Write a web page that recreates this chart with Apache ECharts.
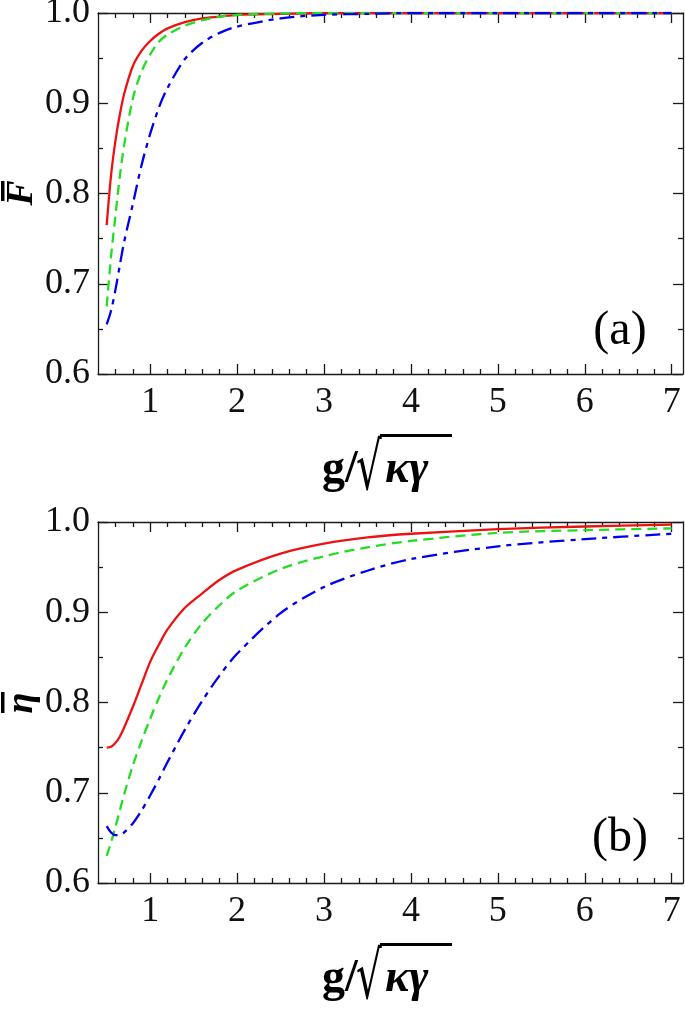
<!DOCTYPE html>
<html>
<head>
<meta charset="utf-8">
<script src="https://cdn.jsdelivr.net/npm/echarts@6/dist/echarts.min.js"></script>
<style>
html,body{margin:0;padding:0;background:#fff;}
#chart{width:685px;height:1009px;}
</style>
</head>
<body>
<div id="chart"></div>
<script>
// ---- data ----
const xVals = [0.5, 0.55, 0.6, 0.65, 0.7, 0.8, 0.9, 1.0, 1.1, 1.2, 1.4, 1.6, 1.8, 2.0, 2.5, 3, 3.5, 4, 5, 6, 7];

// panel (a): F-bar
const fRed   = [0.765, 0.820, 0.858, 0.887, 0.910, 0.941, 0.958, 0.969, 0.977, 0.983, 0.990, 0.994, 0.996, 0.998, 0.999, 1.0, 1.0, 1.0, 1.0, 1.0, 1.0];
const fGreen = [0.675, 0.730, 0.775, 0.818, 0.853, 0.905, 0.935, 0.954, 0.968, 0.976, 0.986, 0.992, 0.996, 0.998, 0.9995, 1.0, 1.0, 1.0, 1.0, 1.0, 1.0];
const fBlue  = [0.655, 0.670, 0.693, 0.720, 0.746, 0.788, 0.831, 0.866, 0.895, 0.917, 0.949, 0.967, 0.978, 0.985, 0.994, 0.998, 0.999, 1.0, 1.0, 1.0, 1.0];

// panel (b): eta-bar
const eRed   = [0.750, 0.751, 0.755, 0.762, 0.772, 0.795, 0.820, 0.845, 0.864, 0.881, 0.905, 0.921, 0.936, 0.947, 0.965, 0.976, 0.983, 0.987, 0.992, 0.995, 0.997];
const eGreen = [0.630, 0.645, 0.662, 0.680, 0.698, 0.730, 0.757, 0.782, 0.805, 0.826, 0.861, 0.888, 0.908, 0.924, 0.948, 0.962, 0.972, 0.979, 0.988, 0.991, 0.993];
const eBlue  = [0.663, 0.656, 0.653, 0.653, 0.656, 0.666, 0.680, 0.697, 0.715, 0.734, 0.770, 0.802, 0.830, 0.854, 0.899, 0.928, 0.946, 0.959, 0.973, 0.981, 0.987];

// ticks
const xMajor = [1, 2, 3, 4, 5, 6, 7];
const xMinor = [0.6, 0.8, 1.2, 1.4, 1.6, 1.8, 2.2, 2.4, 2.6, 2.8, 3.2, 3.4, 3.6, 3.8, 4.2, 4.4, 4.6, 4.8, 5.2, 5.4, 5.6, 5.8, 6.2, 6.4, 6.6, 6.8];
const yMajor = [0.6, 0.7, 0.8, 0.9, 1.0];
const yMinor = [0.65, 0.75, 0.85, 0.95];

const X_MIN = 0.4, X_MAX = 7.13, Y_MIN = 0.6, Y_MAX = 1.0;
const SERIF = "'Liberation Serif', 'Times New Roman', serif";
const lineStyle = {color: '#1a1a1a', width: 1.3};

function zip(xs, ys) { return xs.map((x, i) => [x, ys[i]]); }

function xAxesFor(g) {
  const base = {type: 'value', gridIndex: g, min: X_MIN, max: X_MAX, splitLine: {show: false}, silent: true};
  return [
    Object.assign({}, base, {position: 'bottom',
      axisLine: {show: true, lineStyle},
      axisTick: {show: true, inside: true, length: 10, customValues: xMajor, lineStyle},
      axisLabel: {show: true, customValues: xMajor, formatter: v => String(v), fontSize: 36, fontFamily: SERIF, color: '#111', margin: 11}}),
    Object.assign({}, base, {position: 'bottom',
      axisLine: {show: false},
      axisTick: {show: true, inside: true, length: 5, customValues: xMinor, lineStyle},
      axisLabel: {show: false}}),
    Object.assign({}, base, {position: 'top',
      axisLine: {show: true, lineStyle},
      axisTick: {show: true, inside: true, length: 10, customValues: xMajor, lineStyle},
      axisLabel: {show: false}}),
    Object.assign({}, base, {position: 'top',
      axisLine: {show: false},
      axisTick: {show: true, inside: true, length: 5, customValues: xMinor, lineStyle},
      axisLabel: {show: false}})
  ];
}
function yAxesFor(g) {
  const base = {type: 'value', gridIndex: g, min: Y_MIN, max: Y_MAX, splitLine: {show: false}, silent: true};
  const ax = [];
  ['left', 'right'].forEach(pos => {
    ax.push(Object.assign({}, base, {position: pos,
      axisLine: {show: true, lineStyle},
      axisTick: {show: true, inside: true, length: 10, customValues: yMajor, lineStyle},
      axisLabel: {show: pos === 'left', customValues: yMajor, formatter: v => v.toFixed(1), fontSize: 36, fontFamily: SERIF, color: '#111', margin: 8}}));
    ax.push(Object.assign({}, base, {position: pos,
      axisLine: {show: false},
      axisTick: {show: true, inside: true, length: 5, customValues: yMinor, lineStyle},
      axisLabel: {show: false}}));
  });
  return ax;
}

function seriesFor(g, red, green, blue) {
  const common = {type: 'line', xAxisIndex: g * 4, yAxisIndex: g * 4, showSymbol: false, smooth: 0.3, silent: true, animation: false};
  return [
    Object.assign({}, common, {data: zip(xVals, red), lineStyle: {color: '#ee1111', width: 2.3, type: 'solid'}}),
    Object.assign({}, common, {data: zip(xVals, green), lineStyle: {color: '#22dd22', width: 2.3, type: [10, 6]}}),
    Object.assign({}, common, {data: zip(xVals, blue), lineStyle: {color: '#0000ee', width: 2.3, type: [15, 6, 5, 6]}})
  ];
}

function xTitle(dy) {
  return [
    {type: 'text', x: 322, y: 470 + dy, style: {text: 'g/', font: "bold 46px " + SERIF, fill: '#000', verticalAlign: 'middle'}},
    {type: 'text', x: 356, y: 438.5 + dy, scaleX: 0.75, scaleY: 1.22, style: {text: '\u221A', font: "54px 'DejaVu Serif', serif", fill: '#000', verticalAlign: 'top'}},
    {type: 'line', shape: {x1: 380, y1: 435.5 + dy, x2: 452, y2: 435.5 + dy}, style: {stroke: '#000', lineWidth: 3}},
    {type: 'text', x: 385, y: 470 + dy, style: {text: '\u03BA\u03B3', font: "italic bold 46px " + SERIF, fill: '#000', verticalAlign: 'middle'}}
  ];
}
function yTitle(text, cy, barY, barH) {
  return [
    {type: 'text', x: 22, y: cy, rotation: Math.PI / 2, style: {text: text, font: "italic bold 38px " + SERIF, fill: '#000', align: 'center', verticalAlign: 'middle'}},
    {type: 'rect', shape: {x: 1, y: barY, width: 3.5, height: barH}, style: {fill: '#000'}}
  ];
}

const chart = echarts.init(document.getElementById('chart'), null, {renderer: 'canvas'});
chart.setOption({
  animation: false,
  backgroundColor: '#fff',
  grid: [
    {left: 98, right: 2, top: 13, height: 361, outerBoundsMode: 'none', containLabel: false},
    {left: 98, right: 2, top: 522, height: 361, outerBoundsMode: 'none', containLabel: false}
  ],
  xAxis: xAxesFor(0).concat(xAxesFor(1)),
  yAxis: yAxesFor(0).concat(yAxesFor(1)),
  series: seriesFor(0, fRed, fGreen, fBlue).concat(seriesFor(1, eRed, eGreen, eBlue)),
  graphic: [].concat(
    xTitle(0), xTitle(509),
    yTitle('F', 193, 181, 20), yTitle('\u03B7', 703, 692, 21),
    [
      {type: 'text', x: 620, y: 331, style: {text: '(a)', font: "48px " + SERIF, fill: '#000', align: 'center', verticalAlign: 'middle'}},
      {type: 'text', x: 620, y: 838, style: {text: '(b)', font: "48px " + SERIF, fill: '#000', align: 'center', verticalAlign: 'middle'}}
    ]
  )
});
</script>
</body>
</html>
